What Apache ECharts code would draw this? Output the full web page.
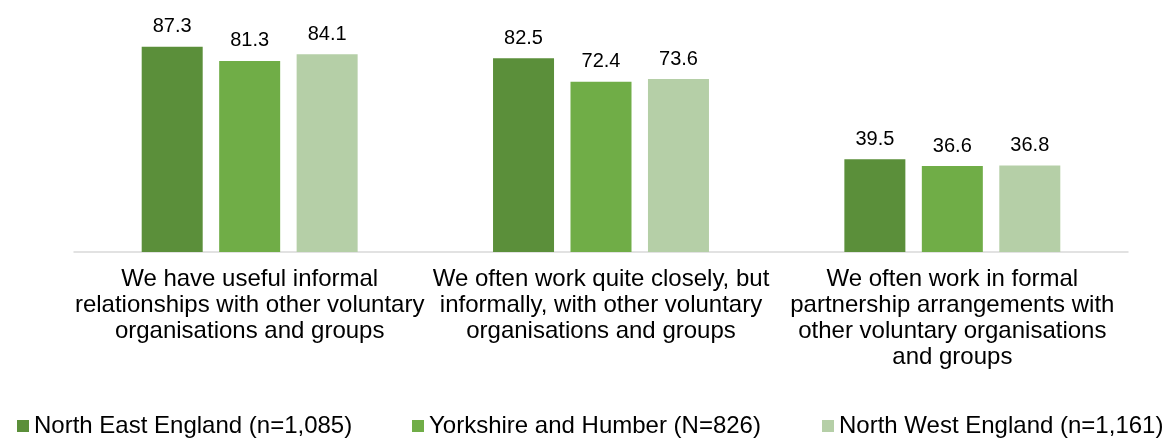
<!DOCTYPE html>
<html>
<head>
<meta charset="utf-8">
<script src="https://cdn.jsdelivr.net/npm/echarts@6/dist/echarts.min.js"></script>
<style>
html,body{margin:0;padding:0;background:#fff;}
#chart{width:1167px;height:439px;}
</style>
</head>
<body>
<div id="chart"></div>
<script>
const categories = [
  "We have useful informal\nrelationships with other voluntary\norganisations and groups",
  "We often work quite closely, but\ninformally, with other voluntary\norganisations and groups",
  "We often work in formal\npartnership arrangements with\nother voluntary organisations\nand groups"
];
const seriesNames = [
  "North East England (n=1,085)",
  "Yorkshire and Humber (N=826)",
  "North West England (n=1,161)"
];
const northEast = [87.3, 82.5, 39.5];
const yorkshire = [81.3, 72.4, 36.6];
const northWest = [84.1, 73.6, 36.8];
const colors = ["#5b8f3a", "#70ad47", "#b5cfa7"];
const legendLefts = [12, 407, 817];

const chart = echarts.init(document.getElementById('chart'));
const font = "Liberation Sans, Arial, sans-serif";
const dataSets = [northEast, yorkshire, northWest];

chart.setOption({
  animation: false,
  textStyle: { fontFamily: font },
  grid: { left: 74, right: 39, top: 17, bottom: 187, containLabel: false },
  legend: seriesNames.map((n, i) => ({
    data: [n],
    left: legendLefts[i],
    top: 409,
    itemWidth: 12,
    itemHeight: 12,
    itemGap: 0,
    icon: 'rect',
    textStyle: { fontSize: 24, color: '#000', fontFamily: font }
  })),
  xAxis: {
    type: 'category',
    data: categories,
    axisLine: { lineStyle: { color: '#d9d9d9', width: 1.5 } },
    axisTick: { show: false },
    axisLabel: {
      interval: 0,
      fontSize: 24,
      lineHeight: 26,
      color: '#000',
      margin: 14,
      fontFamily: font
    }
  },
  yAxis: {
    type: 'value',
    min: 0,
    max: 100,
    show: false,
    splitLine: { show: false }
  },
  series: dataSets.map((d, i) => ({
    name: seriesNames[i],
    type: 'bar',
    data: d,
    barWidth: 61,
    barGap: '27%',
    itemStyle: { color: colors[i] },
    label: {
      show: true,
      position: 'top',
      distance: 10,
      fontSize: 20,
      color: '#000',
      fontFamily: font,
      formatter: (p) => p.value.toFixed(1)
    }
  }))
});
</script>
</body>
</html>
